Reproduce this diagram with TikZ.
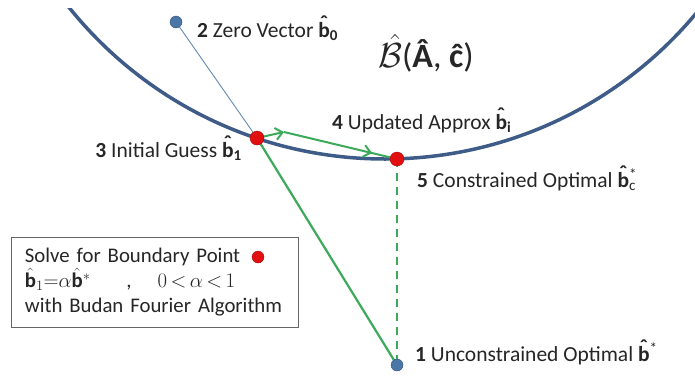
\documentclass[tikz,border=0pt]{standalone}
\usepackage{fontspec}
\setmainfont{Carlito}
\usetikzlibrary{arrows.meta,decorations.markings}
\definecolor{arcblue}{RGB}{62,92,135}
\definecolor{ptblue}{RGB}{74,118,168}
\definecolor{ptred}{RGB}{225,15,15}
\definecolor{lgreen}{RGB}{60,170,90}
\definecolor{txtgray}{RGB}{38,38,38}
\newcommand{\bhat}{\textbf{\ooalign{b\cr\hidewidth\raisebox{.3em}{\char"02C6}\hidewidth\cr}}}
\begin{document}
\begin{tikzpicture}[x=1pt,y=-1pt,
  bluedot/.style={circle,fill=ptblue,draw=ptblue!70!black,inner sep=0pt,minimum size=12pt},
  reddot/.style={circle,fill=ptred,draw=ptred!75!black,inner sep=0pt,minimum size=14pt},
  lbl/.style={anchor=base west,inner sep=0pt,text=txtgray,font=\fontsize{21.5}{25}\selectfont},
  tip/.style={-{Straight Barb[length=7pt,width=12pt]}},
  midtip/.style={postaction=decorate,decoration={markings,
    mark=at position 0.78 with {\arrow{Straight Barb[length=7pt,width=12pt]}}}}]
\useasboundingbox[fill=white] (0,0) rectangle (695,378);
% feasible set boundary
\begin{scope}
  \clip (0,8) rectangle (695,378);
  \draw[color=arcblue,line width=3.5pt] (385,-246) circle (405);
\end{scope}
\coordinate (p0) at (176,22);
\coordinate (p1) at (257,138);
\coordinate (pc) at (397,159);
\coordinate (ps) at (397,365);
\coordinate (turn) at (284,132);
% connectors
\draw[color=ptblue!85,line width=0.9pt] (p0) -- (p1);
\draw[color=lgreen,line width=2.2pt] (p1) -- (ps);
\draw[color=lgreen,line width=2.2pt,dash pattern=on 8pt off 6pt] (pc) -- (ps);
\draw[color=lgreen,line width=2pt,tip] (p1) -- (turn);
\draw[color=lgreen,line width=2pt,midtip] (turn) -- (pc);
% points
\node[bluedot] (b0) at (p0) {};
\node[reddot] (b1) at (p1) {};
\node[reddot] (bc) at (pc) {};
\node[bluedot] (bs) at (ps) {};
% labels
\node[lbl] (l0) at (197,37) {\textbf{2} Zero Vector \bhat\textsubscript{\textbf{0}}};
\node[anchor=base west,inner sep=0pt,text=txtgray,font=\fontsize{34}{38}\selectfont] (bset) at (378,67)
  {\scalebox{1.4}{$\hat{\mathcal{B}}$}(\textbf{\^{A}}, \textbf{\^{c}})};
\node[lbl,anchor=base east] (l1) at (242,157) {\textbf{3} Initial Guess \bhat\textsubscript{\textbf{1}}};
\node[lbl] (li) at (332,129) {\textbf{4} Updated Approx \bhat\textsubscript{\textbf{i}}};
\node[lbl] (lc) at (417,187) {\textbf{5} Constrained Optimal \bhat\rlap{\textsuperscript{*}}\textsubscript{c}};
\node[lbl] (ls) at (415,361) {\textbf{1} Unconstrained Optimal \bhat\textsuperscript{*}};
% legend box
\node[draw=gray!80!black,line width=0.8pt,anchor=north west,text=txtgray,
  font=\fontsize{20.8}{25}\selectfont,inner xsep=13.5pt,inner ysep=11pt,
  text width=260pt,align=left] (legend) at (11,237)
  {Solve for Boundary Point\\
   $\hat{\mathbf{b}}_1{=}\alpha\hat{\mathbf{b}}^*$\hspace{36pt},\hspace{26pt}$0\,{<}\,\alpha\,{<}\,1$\\
   with Budan Fourier Algorithm};
\node[reddot,minimum size=12pt] (key) at (258,257) {};
\end{tikzpicture}
\end{document}
